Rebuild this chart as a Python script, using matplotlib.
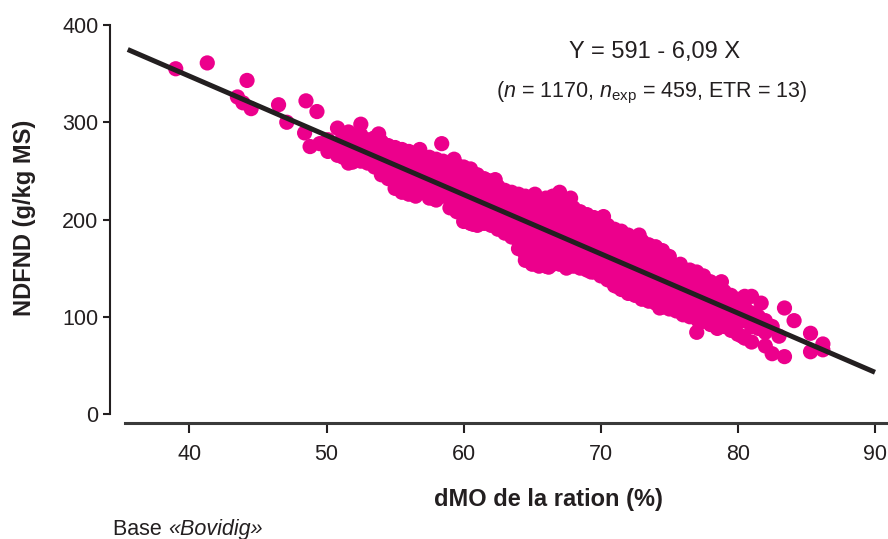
import matplotlib
matplotlib.use("Agg")
import matplotlib.pyplot as plt

# Isolated points (dMO %, NDFND g/kg MS)
out_x = [39.0, 41.3, 43.5, 43.9, 44.2, 44.5, 46.5, 47.1, 48.5, 49.3, 48.4, 48.8, 49.5, 58.4, 61.8]
out_y = [355, 361, 326, 320, 343, 314, 318, 300, 322, 311, 289, 275, 278, 278, 240]

# Main cloud, read column by column: dMO value and the NDFND values at it
band_x = [50.1, 50.8, 51.2, 51.6, 52.1, 52.5, 53.0, 53.5, 54.0, 54.5,
          55.0, 55.5, 56.0, 56.5, 57.0, 57.5, 58.0, 58.5, 59.0, 59.5,
          60.0, 60.5, 61.0, 61.5, 62.0, 62.5, 63.0, 63.5, 64.0, 64.5,
          65.0, 65.5, 66.0, 66.5, 67.0, 67.5, 68.0, 68.5, 69.0, 69.5,
          70.0, 70.5, 71.0, 71.5, 72.0, 72.5, 73.0, 73.5, 74.0, 74.5,
          75.0, 75.5, 76.0, 76.5, 77.0, 77.5, 78.0, 78.5, 79.0, 79.5,
          80.0, 80.5, 81.0, 81.5, 82.0, 82.5, 83.0, 83.4, 84.1, 85.3, 86.2]
band_y = [
    [282, 270], [294, 278, 266], [286, 264], [290, 278, 268, 258], [286, 274, 262],
    [298, 287, 272, 260], [282, 270, 258], [284, 274, 262, 254], [280, 268, 256, 246], [276, 264, 252, 242],
    [274, 262, 250, 238, 232], [272, 260, 248, 236, 228], [270, 258, 246, 234, 226], [266, 256, 244, 232, 224], [264, 252, 240, 228],
    [264, 252, 240, 228, 222], [262, 250, 238, 226, 220], [260, 248, 236, 224], [258, 246, 234, 222, 212], [256, 244, 232, 220, 208],
    [254, 242, 230, 218, 206, 198], [252, 240, 228, 216, 204, 196], [246, 236, 224, 212, 200, 194], [242, 232, 220, 208, 196], [238, 228, 216, 204, 194],
    [234, 224, 212, 200, 190], [230, 220, 208, 196, 186], [228, 216, 204, 192, 182], [226, 214, 202, 190, 178, 170], [224, 212, 200, 188, 176, 164, 158],
    [222, 210, 198, 186, 174, 162, 154], [218, 208, 196, 184, 172, 160, 152], [222, 210, 198, 186, 174, 162, 152], [224, 212, 200, 188, 176, 164, 154], [228, 214, 202, 190, 178, 166, 154],
    [218, 206, 194, 182, 170, 158, 150], [212, 200, 188, 176, 164, 152], [208, 198, 186, 174, 162, 150], [205, 194, 182, 170, 158, 148], [202, 190, 178, 166, 154, 146],
    [200, 188, 176, 164, 152, 142], [194, 184, 172, 160, 148, 138], [190, 180, 168, 156, 144, 132], [188, 176, 164, 152, 140, 128], [184, 172, 160, 148, 136, 124],
    [180, 170, 158, 146, 134, 122], [178, 166, 154, 142, 130, 118], [174, 164, 152, 140, 128, 116], [172, 160, 148, 136, 124, 114], [168, 156, 144, 132, 120, 110],
    [162, 152, 140, 128, 116, 108], [150, 140, 128, 116, 106], [148, 138, 126, 114, 102], [148, 136, 124, 112, 100], [146, 134, 122, 110, 98, 84],
    [142, 130, 118, 106, 96], [136, 124, 112, 100, 92], [132, 120, 108, 96, 88], [126, 114, 102, 90], [122, 110, 98, 86],
    [118, 106, 94, 82], [121, 110, 96, 78], [121, 104, 90, 74], [100, 88], [96, 84, 70],
    [90, 62], [80], [109, 59], [96], [83, 64], [72, 66],
]

# Points sticking out along the edges of the cloud
edge_x = [51.9, 53.8, 55.3, 56.8, 57.9, 59.3, 60.7, 62.3, 63.7, 65.2, 66.2,
          67.8, 69.3, 70.2, 71.2, 72.8, 74.3, 75.8, 77.2, 78.8, 80.3, 81.7]
edge_y = [259, 288, 233, 272, 221, 262, 195, 241, 184, 226, 151,
          222, 146, 203, 131, 184, 109, 154, 94, 136, 80, 114]

# Regression Y = 591 - 6,09 X
intercept = 591
slope = -6.09
line_x = [35.5, 90.0]

xticks = [40, 50, 60, 70, 80, 90]
yticks = [0, 100, 200, 300, 400]

plt.rcParams['font.family'] = ['Liberation Sans', 'DejaVu Sans']
plt.rcParams['mathtext.fontset'] = 'custom'
plt.rcParams['mathtext.rm'] = 'Liberation Sans'
plt.rcParams['mathtext.it'] = 'Liberation Sans:italic'

pink = '#EC008C'
dark = '#231F20'

xs = list(out_x) + list(edge_x)
ys = list(out_y) + list(edge_y)
for x, col in zip(band_x, band_y):
    for y in col:
        xs.append(x)
        ys.append(y)

fig = plt.figure(figsize=(8.88, 5.39), dpi=100)
ax = fig.add_axes([125 / 888, 1 - 414 / 539, 1 - 125 / 888, (414 - 25) / 539])

ax.scatter(xs, ys, s=120, color=pink, edgecolors='none', zorder=2)
ax.plot(line_x, [intercept + slope * x for x in line_x], color=dark, lw=3.6,
        solid_capstyle='butt', zorder=3)

ax.set_xlim(35.3, 90.95)
ax.set_ylim(0, 400)
ax.set_xticks(xticks)
ax.set_yticks(yticks)

for s in ['top', 'right']:
    ax.spines[s].set_visible(False)
ax.spines['left'].set_position(('outward', 11))
ax.spines['left'].set_bounds(0, 400)
ax.spines['bottom'].set_position(('outward', 6.5))
ax.spines['left'].set_color(dark)
ax.spines['left'].set_linewidth(1.5)
ax.spines['bottom'].set_color('#3a3a3a')
ax.spines['bottom'].set_linewidth(2.2)

ax.tick_params(axis='y', length=5, width=1.5, color=dark, pad=3,
               labelsize=15.5, labelcolor=dark)
ax.tick_params(axis='x', length=7, width=1.5, color=dark, pad=8,
               labelsize=15.5, labelcolor=dark)

ax.set_xlabel('dMO de la ration (%)', fontsize=17, fontweight='bold', color=dark)
ax.xaxis.set_label_coords((548 - 125) / (888 - 125), -(488 - 414) / (414 - 25))
ax.set_ylabel('NDFND (g/kg MS)', fontsize=17, fontweight='bold', color=dark)
ax.yaxis.set_label_coords(-(125 - 36) / (888 - 125), (414 - 218) / (414 - 25))

fig.text(655 / 888, 1 - 52 / 539, 'Y = 591 - 6,09 X', ha='center', va='center',
         fontsize=17, color=dark)
fig.text(652 / 888, 1 - 93 / 539,
         r'($n$ = 1170, $n_{\mathrm{exp}}$ = 459, ETR = 13)',
         ha='center', va='center', fontsize=15.5, color=dark)

base = fig.text(113 / 888, 1 - 535 / 539, 'Base ', fontsize=15.5, color=dark,
                va='baseline')
plt.annotate('«Bovidig»', xy=(1, 0), xycoords=base, va='bottom',
             fontsize=15.5, color=dark, style='italic', annotation_clip=False)

fig.savefig('out.png', dpi=100)
